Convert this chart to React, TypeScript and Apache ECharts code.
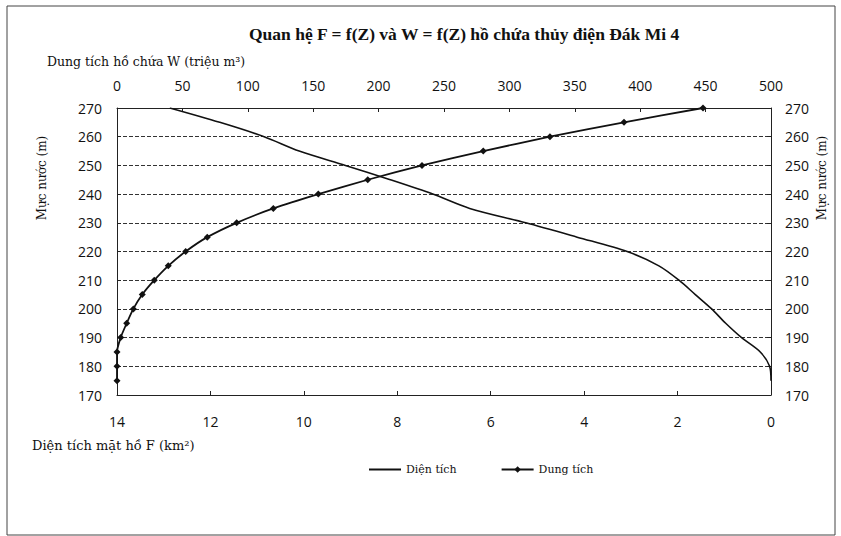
import React, { useEffect, useRef } from "react";
import * as echarts from "echarts";

const title = "Quan hệ F = f(Z) và W = f(Z) hồ chứa thủy điện Đák Mi 4";
const topAxisTitle = "Dung tích hồ chứa W (triệu m³)";
const bottomAxisTitle = "Diện tích mặt hồ F (km²)";
const yAxisTitle = "Mực nước (m)";
const seriesNames = ["Diện tích", "Dung tích"];

// Water level Z (m)
const levels = [175, 180, 185, 190, 195, 200, 205, 210, 215, 220, 225, 230, 235, 240, 245, 250, 255, 260, 265, 270];
// Surface area F (km²)
const areaF = [0, 0.03, 0.23, 0.63, 0.97, 1.27, 1.62, 1.97, 2.4, 3.08, 4.15, 5.25, 6.45, 7.24, 8.15, 9.11, 10.1, 10.85, 11.8, 12.87];
// Volume W (million m³)
const volumeW = [0, 0, 0, 2.8, 7.4, 12.5, 19.3, 28.5, 39.2, 52.5, 69, 91.5, 119.5, 153.9, 191.7, 233.2, 280, 331, 387.6, 448];

const serif = "'DejaVu Serif', 'Liberation Serif', serif";
const sans = "'Open Sans', 'Noto Sans', sans-serif";

export default function App() {
  const ref = useRef<HTMLDivElement>(null);
  useEffect(() => {
    if (!ref.current) return;
    const chart = echarts.init(ref.current, undefined, { renderer: "svg" });
    const axisLine = { show: true, lineStyle: { color: "#222", width: 1 } };
    const axisTick = { show: true, length: 4, lineStyle: { color: "#222" } };
    const label = { color: "#111", fontSize: 14, fontFamily: sans };
    chart.setOption({
      animation: false,
      backgroundColor: "#fff",
      grid: { left: 117, right: 70, top: 108, bottom: 141, containLabel: false },
      title: {
        text: title,
        left: 244,
        top: 20,
        textStyle: { fontFamily: "'Liberation Serif', serif", fontWeight: "bold", fontSize: 17.5, color: "#111" },
      },
      legend: {
        left: 363,
        top: 459,
        itemWidth: 32,
        itemHeight: 8,
        itemGap: 44,
        textStyle: { fontFamily: serif, fontSize: 11, color: "#111" },
        data: [
          { name: seriesNames[0], itemStyle: { color: "rgba(0,0,0,0)", borderWidth: 0, opacity: 0 } },
          { name: seriesNames[1] },
        ],
      },
      xAxis: [
        {
          type: "value",
          position: "bottom",
          inverse: true,
          min: 0,
          max: 14,
          interval: 2,
          axisLine,
          axisTick: { ...axisTick, inside: true },
          axisLabel: { ...label, margin: 19 },
          splitLine: { show: false },
        },
        {
          type: "value",
          position: "top",
          min: 0,
          max: 500,
          interval: 50,
          axisLine,
          axisTick: { ...axisTick, inside: true },
          axisLabel: { ...label, margin: 16 },
          splitLine: { show: false },
        },
      ],
      yAxis: [
        {
          type: "value",
          position: "left",
          min: 170,
          max: 270,
          interval: 10,
          axisLine,
          axisTick,
          axisLabel: { ...label, margin: 15 },
          splitLine: { show: true, lineStyle: { color: "#333", width: 1, type: [4, 2] } },
        },
        {
          type: "value",
          position: "right",
          min: 170,
          max: 270,
          interval: 10,
          axisLine,
          axisTick,
          axisLabel: { ...label, margin: 14 },
          splitLine: { show: false },
        },
      ],
      series: [
        {
          name: seriesNames[0],
          type: "line",
          xAxisIndex: 0,
          yAxisIndex: 0,
          showSymbol: false,
          symbol: "none",
          smooth: 0.3,
          lineStyle: { color: "#111", width: 1.6 },
          itemStyle: { color: "#111" },
          data: levels.map((z, i) => [areaF[i], z]),
        },
        {
          name: seriesNames[1],
          type: "line",
          xAxisIndex: 1,
          yAxisIndex: 0,
          symbol: "diamond",
          symbolSize: 7,
          smooth: 0.2,
          lineStyle: { color: "#111", width: 1.8 },
          itemStyle: { color: "#111" },
          data: levels.map((z, i) => [volumeW[i], z]),
        },
      ],
      graphic: [
        {
          type: "rect",
          shape: { x: 7, y: 6, width: 828, height: 529 },
          style: { fill: "none", stroke: "#444", lineWidth: 1 },
        },
        {
          type: "text",
          left: 47,
          top: 55,
          style: { text: topAxisTitle, fontFamily: serif, fontSize: 12.5, fill: "#111" },
        },
        {
          type: "text",
          left: 32,
          top: 439,
          style: { text: bottomAxisTitle, fontFamily: serif, fontSize: 13, fill: "#111" },
        },
        {
          type: "text",
          x: 42,
          y: 178,
          rotation: Math.PI / 2,
          style: { text: yAxisTitle, fontFamily: serif, fontSize: 12, fill: "#111", align: "center", verticalAlign: "middle" },
        },
        {
          type: "text",
          x: 822,
          y: 178,
          rotation: Math.PI / 2,
          style: { text: yAxisTitle, fontFamily: serif, fontSize: 12, fill: "#111", align: "center", verticalAlign: "middle" },
        },
      ],
    });
    return () => chart.dispose();
  }, []);
  return (
    <div
      ref={ref}
      style={{ position: "absolute", left: 0, top: 0, width: 841, height: 536 }}
    />
  );
}
